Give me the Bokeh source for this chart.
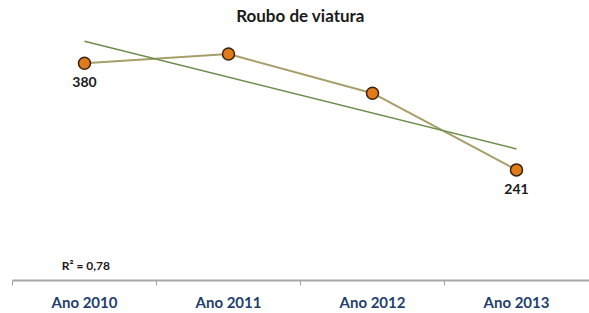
import numpy as np
from bokeh.plotting import figure
from bokeh.models import FixedTicker, Range1d
from bokeh.core.properties import value
from bokeh.embed import file_html
from bokeh.resources import INLINE

categories = ["Ano 2010", "Ano 2011", "Ano 2012", "Ano 2013"]
values = [380, 392, 341, 241]
title_text = "Roubo de viatura"
labeled_idx = [0, 3]

xs = list(range(len(categories)))
slope, intercept = np.polyfit(xs, values, 1)
fit = [slope * x + intercept for x in xs]
ss_res = sum((v - f) ** 2 for v, f in zip(values, fit))
mean_v = sum(values) / len(values)
ss_tot = sum((v - mean_v) ** 2 for v in values)
r2 = 1 - ss_res / ss_tot
r2_text = "R² = " + f"{r2:.2f}".replace(".", ",")

FONT = "Lato"

p = figure(width=589, height=313, output_backend="svg", toolbar_location=None,
           x_range=Range1d(-0.5, 3.507), y_range=Range1d(96.8, 461.8),
           y_axis_location=None, min_border_left=12, min_border_right=0,
           min_border_top=0, min_border_bottom=32)
p.outline_line_color = None
p.xgrid.visible = False
p.ygrid.visible = False
p.background_fill_color = "white"

# data line
p.line(xs, values, line_color="#A89E6A", line_width=2)
# trend line
p.line([xs[0], xs[-1]], [fit[0], fit[-1]], line_color="#6F8C4A", line_width=1.5)
# markers
p.scatter(xs, values, size=12, fill_color="#E07A1A", line_color="#3A2410", line_width=1.5)

# data labels
p.text([xs[i] for i in labeled_idx], [values[i] for i in labeled_idx],
       text=[str(values[i]) for i in labeled_idx], y_offset=19,
       text_align="center", text_baseline="middle",
       text_font=value(FONT), text_font_style="bold", text_font_size="14px",
       text_color="#1a1a1a")

# title
p.text([1.5], [442.4], text=[title_text], text_align="center", text_baseline="middle",
       text_font=value(FONT), text_font_style="bold", text_font_size="17px",
       text_color="#1a1a1a")

# R2 label
p.text([0.01], [116.3], text=[r2_text], text_align="center", text_baseline="middle",
       text_font=value(FONT), text_font_style="bold", text_font_size="12px",
       text_color="#1a1a1a")

ax = p.xaxis[0]
ax.ticker = FixedTicker(ticks=xs, minor_ticks=[-0.5, 0.5, 1.5, 2.5])
ax.major_label_overrides = {x: c for x, c in zip(xs, categories)}
ax.major_tick_line_color = None
ax.minor_tick_out = 5
ax.minor_tick_in = 0
ax.minor_tick_line_color = "#A6A6A6"
ax.axis_line_color = "#A6A6A6"
ax.axis_line_width = 2
ax.major_label_standoff = 6
ax.major_label_text_font = FONT
ax.major_label_text_font_style = "bold"
ax.major_label_text_font_size = "15px"
ax.major_label_text_color = "#243F6E"

open("out.html", "w").write(file_html(p, INLINE))
